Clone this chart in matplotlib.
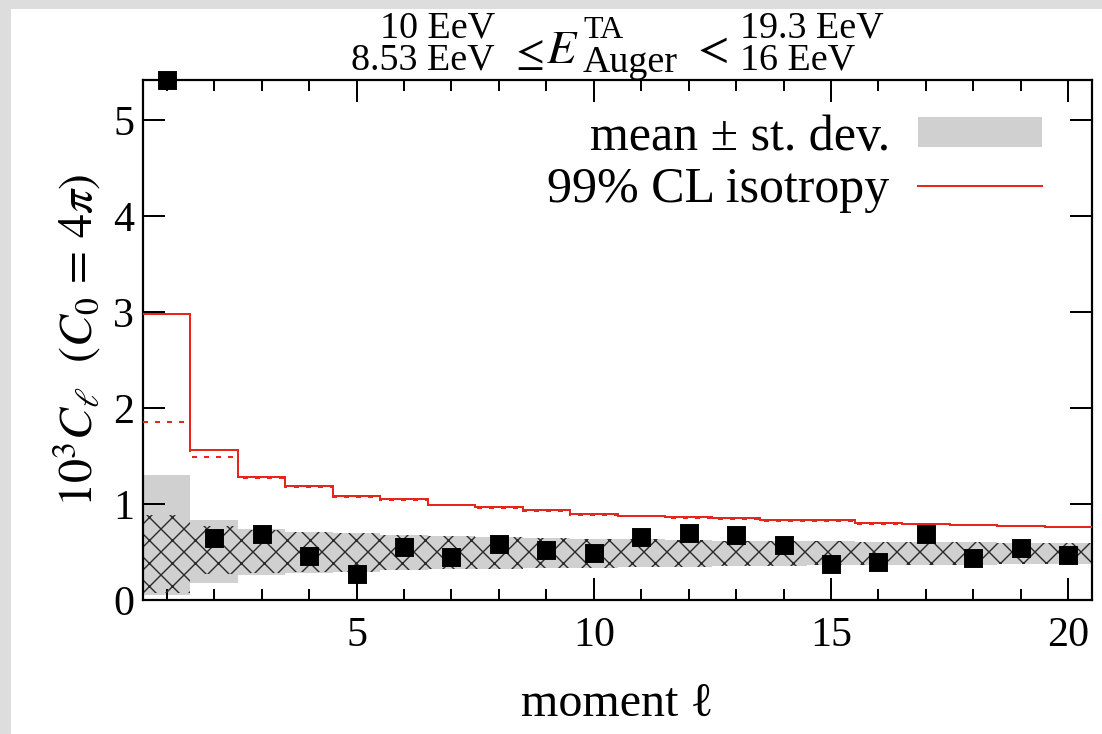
import numpy as np
import matplotlib
matplotlib.use("Agg")
import matplotlib.pyplot as plt
from matplotlib.patches import Rectangle, Patch
from matplotlib.lines import Line2D
from matplotlib.ticker import MultipleLocator

DPI = 138
W, H = 1102, 734
P = 72.0 / DPI  # pixels -> points

plt.rcParams['font.family'] = ['Liberation Serif', 'DejaVu Serif']
plt.rcParams['mathtext.fontset'] = 'stix'
plt.rcParams['hatch.linewidth'] = 1.4 * P

# multipole moments
ell = np.arange(1, 21)
cl_data = [5.42, 0.645, 0.69, 0.46, 0.27, 0.55, 0.45, 0.58, 0.52, 0.486,
           0.653, 0.695, 0.677, 0.573, 0.372, 0.40, 0.684, 0.44, 0.545, 0.469]
# isotropic expectation, mean +- st. dev.
band_hi = [1.30, 0.833, 0.74, 0.71, 0.70, 0.68, 0.665, 0.655, 0.645, 0.64,
           0.632, 0.625, 0.62, 0.615, 0.61, 0.607, 0.604, 0.601, 0.598, 0.597]
band_lo = [0.05, 0.174, 0.26, 0.28, 0.29, 0.31, 0.32, 0.325, 0.33, 0.335,
           0.34, 0.345, 0.35, 0.355, 0.36, 0.362, 0.366, 0.37, 0.372, 0.375]
# hatched band
hatch_hi = [0.885, 0.77, 0.73, 0.71, 0.70, 0.68, 0.665, 0.655, 0.645, 0.64,
            0.632, 0.625, 0.62, 0.615, 0.61, 0.607, 0.604, 0.601, 0.598, 0.597]
hatch_lo = [0.07, 0.27, 0.28, 0.29, 0.295, 0.31, 0.32, 0.325, 0.33, 0.335,
            0.34, 0.345, 0.35, 0.355, 0.36, 0.362, 0.366, 0.37, 0.372, 0.375]
# 99% CL isotropy
iso99 = [2.98, 1.56, 1.28, 1.19, 1.08, 1.05, 0.99, 0.966, 0.9375, 0.896,
         0.878, 0.861, 0.851, 0.833, 0.833, 0.799, 0.795, 0.785, 0.774, 0.764]
iso99_dot = [1.86, 1.49, 1.27, 1.18, 1.075, 1.045, 0.985, 0.96, 0.93, 0.89,
             0.872, 0.855, 0.845, 0.828, 0.828, 0.794, 0.79, 0.78, 0.769, 0.759]

GREY = '#d0d0d0'
RED = '#e8251c'

fig = plt.figure(figsize=(W / DPI, H / DPI), dpi=DPI, facecolor='#dddddd')
fig.add_artist(Rectangle((11 / W, 0), 1, 1 - 9 / H, transform=fig.transFigure,
                         facecolor='white', edgecolor='none', zorder=-5))

ax = fig.add_axes([143 / W, 134 / H, 949 / W, 520 / H])
edges = np.arange(0.5, 21.5, 1.0)

ax.stairs(band_hi, edges, baseline=band_lo, fill=True, color=GREY, lw=0, zorder=1)
ax.stairs(hatch_hi, edges, baseline=hatch_lo, fill=True, facecolor='none',
          edgecolor='#2a2a2a', hatch='xx', lw=0, zorder=2)
ax.stairs(iso99_dot, edges, baseline=None, color=RED, lw=2 * P,
          linestyle=(0, (2.5, 3.5)), zorder=3)
ax.stairs(iso99, edges, baseline=None, color=RED, lw=2 * P, zorder=4)
ax.plot(ell, cl_data, 's', color='black', ms=17 * P, clip_on=False, zorder=6)

ax.set_xlim(0.5, 20.5)
ax.set_ylim(0, 5.42)
ax.xaxis.set_major_locator(MultipleLocator(5))
ax.xaxis.set_minor_locator(MultipleLocator(1))
ax.yaxis.set_major_locator(MultipleLocator(1))
ax.tick_params(which='both', direction='in', top=True, right=True,
               width=2 * P, labelsize=42 * P)
ax.tick_params(which='major', length=22 * P)
ax.tick_params(which='minor', length=11 * P)
ax.tick_params(axis='x', pad=16 * P)
ax.tick_params(axis='y', pad=9 * P)
for s in ax.spines.values():
    s.set_linewidth(2.2 * P)

ax.set_xlabel('moment ℓ', fontsize=48 * P, labelpad=27 * P)
ax.set_ylabel(r'$10^3C_\ell\ \ (C_0\,=\,4\pi)$', fontsize=48 * P, labelpad=10 * P)

handles = [Patch(facecolor=GREY, edgecolor='none'),
           Line2D([], [], color=RED, lw=2 * P)]
ax.legend(handles, ['mean ± st. dev.', '99% CL isotropy'],
          loc='upper right', bbox_to_anchor=(0.947, 0.934), markerfirst=False,
          frameon=False, fontsize=50 * P, handlelength=2.48, handleheight=0.56,
          handletextpad=0.56, labelspacing=0.12, borderpad=0, borderaxespad=0)

# energy ranges above the panel
fs_t = 38 * P
fig.text(495 / W, 1 - 38 / H, '10 EeV', ha='right', va='baseline', fontsize=fs_t)
fig.text(495 / W, 1 - 70 / H, '8.53 EeV', ha='right', va='baseline', fontsize=fs_t)
fig.text(509 / W, 1 - 66 / H, r'$\leq$', ha='left', va='baseline', fontsize=42 * P)
fig.text(546 / W, 1 - 63 / H, r'$E$', ha='left', va='baseline', fontsize=48 * P)
fig.text(583 / W, 1 - 38 / H, 'TA', ha='left', va='baseline', fontsize=32 * P)
fig.text(583 / W, 1 - 72 / H, 'Auger', ha='left', va='baseline', fontsize=38 * P)
fig.text(691 / W, 1 - 62 / H, r'$<$', ha='left', va='baseline', fontsize=46 * P)
fig.text(740 / W, 1 - 38 / H, '19.3 EeV', ha='left', va='baseline', fontsize=fs_t)
fig.text(740 / W, 1 - 70 / H, '16 EeV', ha='left', va='baseline', fontsize=fs_t)

fig.savefig('out.png', dpi=DPI, facecolor=fig.get_facecolor())
